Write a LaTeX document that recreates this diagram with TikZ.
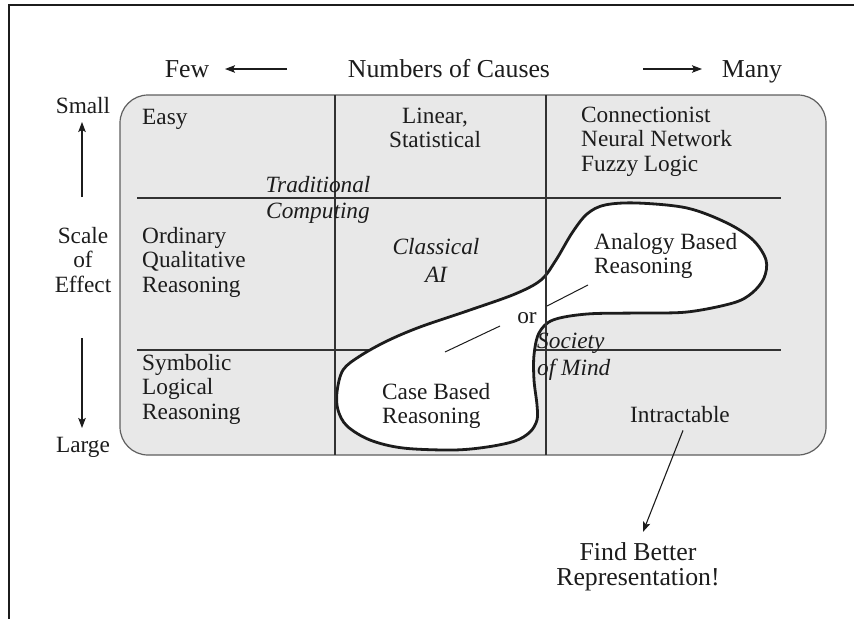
\documentclass[tikz,border=0pt]{standalone}
\usepackage{fontspec}
\setmainfont{Liberation Serif}
\usetikzlibrary{arrows.meta,calc}

\definecolor{ink}{RGB}{28,28,28}
\definecolor{panel}{RGB}{232,232,232}
\definecolor{panelrim}{RGB}{95,95,95}
\definecolor{gridline}{RGB}{50,50,50}

\newcommand\cellfont{\fontsize{23.3}{24.5}\selectfont}
\newcommand\bigfont{\fontsize{25.8}{25}\selectfont}
% stacked lines whose first baseline is the node baseline
\newcommand\stackl[1]{\begin{tabular}[t]{@{}l@{}}#1\end{tabular}}
\newcommand\stackc[1]{\begin{tabular}[t]{@{}c@{}}#1\end{tabular}}

\tikzset{
  lbl/.style={inner sep=0pt, text=ink, font=\cellfont},
  biglbl/.style={inner sep=0pt, text=ink, font=\bigfont},
  arr/.style={draw=ink, line width=1.1pt, -{Stealth[length=10pt,width=7.5pt,inset=2pt]}},
  gridrule/.style={draw=gridline, line width=1.2pt},
  thin/.style={draw=ink, line width=1pt},
}

\begin{document}
\begin{tikzpicture}[x=1pt,y=-1pt]
\useasboundingbox (0,0) rectangle (854,619);

% page frame (top and left rules)
\draw[ink, line width=2.6pt] (854,5) -- (9,5) -- (9,619);

% shaded panel
\draw[panelrim, fill=panel, line width=1.2pt, rounded corners=28pt]
  (120,95) rectangle (826,455);

% horizontal rules
\draw[gridrule] (137,198) -- (781,198);
\draw[gridrule] (137,350) -- (781,350);

% case / analogy region
\draw[ink, fill=white, line width=2.8pt] plot[smooth cycle, tension=0.55] coordinates {
  (337,392) (343,370) (360,356) (387,341) (420,327) (470,310) (515,294)
  (541,280) (556,260) (572,233) (587,214) (605,205) (637,203) (687,208)
  (727,223) (753,240) (766,260) (764,278) (752,293) (733,303) (687,312)
  (637,313) (587,314) (553,320) (539,333) (534,355) (534,380) (537,405)
  (537,420) (530,432) (515,441) (487,447) (453,450) (403,448) (370,440)
  (347,426) (338,410)};

% vertical rules
\draw[gridrule] (335,95) -- (335,455);
\draw[gridrule] (546,95) -- (546,455);

% axis captions
\node[biglbl, anchor=base] (few) at (187,77) {Few};
\node[biglbl, anchor=base] (causes) at (449,77) {Numbers of Causes};
\node[biglbl, anchor=base] (many) at (752,77) {Many};
\coordinate (fewtail) at (287,69);
\coordinate (fewtip) at (225,69);
\coordinate (manytail) at (643,69);
\coordinate (manytip) at (702,69);
\draw[arr] (fewtail) -- (fewtip);
\draw[arr] (manytail) -- (manytip);

\node[lbl, anchor=base] (small) at (83,113) {Small};
\node[lbl, anchor=base] (scale) at (83,243) {\stackc{Scale\\of\\Effect}};
\node[lbl, anchor=base] (large) at (83,452) {Large};
\coordinate (uptail) at (82,197);
\coordinate (uptip) at (82,122);
\coordinate (downtail) at (82,338);
\coordinate (downtip) at (82,428);
\draw[arr] (uptail) -- (uptip);
\draw[arr] (downtail) -- (downtip);

% cell texts
\node[lbl, anchor=base west] (easy) at (142,124) {Easy};
\node[lbl, anchor=base] (linear) at (435,123) {\stackc{Linear,\\Statistical}};
\node[lbl, anchor=base west] (connect) at (581,122) {\stackl{Connectionist\\Neural Network\\Fuzzy Logic}};
\node[lbl, anchor=base, font=\cellfont\itshape] (trad) at (318,192) {\stackc{Traditional\\[1.5pt]Computing}};
\node[lbl, anchor=base west] (ordinary) at (142,243) {\stackl{Ordinary\\Qualitative\\Reasoning}};
\node[lbl, anchor=base, font=\cellfont\itshape] (classical) at (436,254) {\stackc{Classical\\[3.5pt]AI}};
\node[lbl, anchor=base west] (analogy) at (594,249) {\stackl{Analogy Based\\Reasoning}};
\node[lbl, anchor=base] (or) at (527,323) {or};
\node[lbl, anchor=base west, font=\cellfont\itshape] (society) at (537,348) {\stackl{Society\\[2.5pt]of Mind}};
\node[lbl, anchor=base west] (symbolic) at (142,370) {\stackl{Symbolic\\Logical\\Reasoning}};
\node[lbl, anchor=base west] (case) at (382,399) {\stackl{Case Based\\Reasoning}};
\node[lbl, anchor=base] (intract) at (680,422) {Intractable};
\node[biglbl, anchor=base] (better) at (638,560) {\stackc{Find Better\\Representation!}};

% pointer strokes beside "or"
\coordinate (orA1) at (445,352);
\coordinate (orA2) at (500,326);
\coordinate (orB1) at (547,306);
\coordinate (orB2) at (588,285);
\draw[thin] (orA1) -- (orA2);
\draw[thin] (orB1) -- (orB2);

% intractable -> better representation
\draw[arr] ([xshift=3pt,yshift=-8pt]intract.south) -- ([xshift=5pt,yshift=10pt]better.north);
\end{tikzpicture}
\end{document}
